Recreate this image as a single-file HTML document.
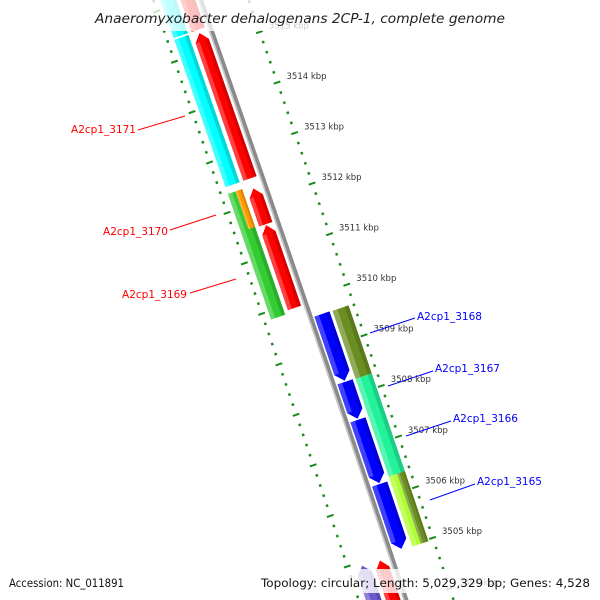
<!DOCTYPE html>
<html><head><meta charset="utf-8"><style>
html,body{margin:0;padding:0;background:#fff;width:600px;height:600px;overflow:hidden;}
svg{display:block;overflow:hidden;}
</style></head><body>
<svg id="map" width="600" height="600" viewBox="0 0 600 600" xmlns="http://www.w3.org/2000/svg">
<g id="backbone-layer"></g>
<g id="feature-layer"></g>
<g id="tick-layer"></g>
<g id="label-layer"></g>
<g id="overlay-layer"></g>
</svg>
<script>
// ---- data ----
const genomeLength = 5029329;
const featureNames = ["R0","A2cp1_3171","R2","A2cp1_3169","C0","C1","A2cp1_3170","O1","B1","B2","B3","B4","A2cp1_3168","A2cp1_3167","Y1","Y1b","Rbot","Lbot"];
const featureStarts = [3515420,3512470,3511563,3509905,3515420,3512467,3509841,3511579,3508311,3507560,3506288,3504989,3508279,3506348,3504966,3504966,3502500,3502500];
const featureEnds   = [3517000,3515353,3512274,3511545,3517000,3515388,3512329,3512329,3509632,3508290,3507540,3506270,3509623,3508279,3506348,3506348,3504912,3504927];
const featureTracks = ["LN","LN","LN","LN","LF","LF","LF","LFi","RN","RN","RN","RN","RF","RF","RF","RFo","LN","LF"];
const featureStrands = [1,1,1,1,0,0,0,0,-1,-1,-1,-1,0,0,0,0,1,1];
const featureColors = ["#ff0000","#ff0000","#ff0000","#ff0000","#00ffff","#00ffff","#33cc33","#ff9900","#0000ff","#0000ff","#0000ff","#0000ff","#6b8e23","#22f29a","#adff2f","#6b8e23","#ff0000","#6a5acd"];
const tickStart = 3503000, tickEnd = 3517000, tickMinorStep = 200, tickMajorStep = 1000;

// ---- geometry ----
const R = 42800;
const bp0 = 3510000;
const P0 = [346.8, 284.7];
const t = [0.3237, 0.946];
const n = [0.946, -0.3237];
const C = [P0[0]-R*n[0], P0[1]-R*n[1]];
function pt(bp, d){
  const phi = (bp0-bp)/genomeLength*2*Math.PI;
  const r = R+d, c=Math.cos(phi), s=Math.sin(phi);
  return [C[0]+r*(n[0]*c+t[0]*s), C[1]+r*(n[1]*c+t[1]*s)];
}
const trackRange = {LN:[-64,-50], LF:[-83,-68], LFi:[-75,-68], RN:[-41,-25], RF:[-22,-5], RFo:[-13,-5]};
const NS="http://www.w3.org/2000/svg";
function el(tag, attrs, parent){
  const e=document.createElementNS(NS,tag);
  for(const k in attrs) e.setAttribute(k, attrs[k]);
  parent.appendChild(e); return e;
}
function arcPoly(b1,b2,d1,d2){
  const pts=[]; const N=12;
  for(let i=0;i<=N;i++) pts.push(pt(b1+(b2-b1)*i/N,d1));
  for(let i=N;i>=0;i--) pts.push(pt(b1+(b2-b1)*i/N,d2));
  return pts;
}
function toStr(p){return p.map(q=>q[0].toFixed(2)+","+q[1].toFixed(2)).join(" ");}

// backbone
const bb = document.getElementById('backbone-layer');
const bbp = el('polygon',{points:toStr(arcPoly(3502800,3517200,-47.5,-42.5)),fill:'#8a8a8a'},bb);


const bbh = el('polygon',{points:toStr(arcPoly(3502800,3517200,-47.5,-46)),fill:'#c8c8c8'},bb);



// features
const fl = document.getElementById('feature-layer');
const headBp = 160;
for(let i=0;i<featureStarts.length;i++){
  const [d1,d2]=trackRange[featureTracks[i]];
  const s=featureStarts[i], e=featureEnds[i], dm=(d1+d2)/2;
  let pts;
  const N=10;
  if(featureStrands[i]===1){
    const hb=e-headBp; pts=[];
    for(let k=0;k<=N;k++) pts.push(pt(s+(hb-s)*k/N,d1));
    pts.push(pt(e,dm));
    for(let k=N;k>=0;k--) pts.push(pt(s+(hb-s)*k/N,d2));
  } else if(featureStrands[i]===-1){
    const hb=s+headBp; pts=[pt(s,dm)];
    for(let k=0;k<=N;k++) pts.push(pt(hb+(e-hb)*k/N,d1));
    for(let k=N;k>=0;k--) pts.push(pt(hb+(e-hb)*k/N,d2));
  } else pts=arcPoly(s,e,d1,d2);
  const g=el('g',{},fl);
  
  
  const p=el('polygon',{points:toStr(pts),fill:featureColors[i]},g);
  
  
  const w=d2-d1;
  const lo = featureStrands[i]===-1 ? s+headBp : s;
  const hi = featureStrands[i]===1 ? e-headBp : e;
  const hl=el('polygon',{points:toStr(arcPoly(lo,hi,d1,d1+w*0.3)),fill:'#ffffff','fill-opacity':0.25},g);
  
  
  const sh=el('polygon',{points:toStr(arcPoly(lo,hi,d2-w*0.25,d2)),fill:'#000000','fill-opacity':0.15},g);
  
  
}

// ticks
const tl=document.getElementById('tick-layer');
const rings=[0,-90];
for(const ring of rings){
  for(let b=tickStart;b<=tickEnd;b+=tickMinorStep){
    const major=(b%tickMajorStep===0);
    const a=pt(b,ring+(major?-3.5:-1)), c=pt(b,ring+(major?3.5:1.5));
    const ln=el('line',{x1:a[0],y1:a[1],x2:c[0],y2:c[1],stroke:'#1a8a1a','stroke-width':major?2:2.5},tl);
    
    
  }
}
for(let b=tickStart;b<=tickEnd;b+=tickMajorStep){
  const p=pt(b,10);
  const tx=el('text',{x:p[0].toFixed(1),y:(p[1]-0.5).toFixed(1),'font-family':'DejaVu Sans, Liberation Sans, sans-serif','font-size':'8.5',fill:'#333'},tl);
  tx.textContent=(b/1000)+' kbp';
  
  
}
</script>
<script>
// overlays & labels (static annotation)
(function(){
  const NS="http://www.w3.org/2000/svg";
  const ll=document.getElementById('label-layer');
  const ov=document.getElementById('overlay-layer');
  function add(tag,attrs,parent){const e=document.createElementNS(NS,tag);for(const k in attrs)e.setAttribute(k,attrs[k]);parent.appendChild(e);return e;}
  const labs=[
    ["A2cp1_3171","#ff0000",136,133,"end",[138,130,185,116]],
    ["A2cp1_3170","#ff0000",168,235,"end",[170,230,216,215]],
    ["A2cp1_3169","#ff0000",187,298,"end",[190,293,236,279]],
    ["A2cp1_3168","#0000ff",417,320,"start",[370,333,415,318]],
    ["A2cp1_3167","#0000ff",435,372,"start",[388,386,433,371]],
    ["A2cp1_3166","#0000ff",453,422,"start",[406,436,451,421]],
    ["A2cp1_3165","#0000ff",477,485,"start",[430,500,475,484]]
  ];
  for(const L of labs){
    const g=add('g',{},ll);
    
    
    const ln=add('line',{x1:L[5][0],y1:L[5][1],x2:L[5][2],y2:L[5][3],stroke:L[1],'stroke-width':1},g);
    
    
    const tx=add('text',{x:L[2],y:L[3],fill:L[1],'font-family':'DejaVu Sans, Liberation Sans, sans-serif','font-size':'10.5','text-anchor':L[4]},g);
    tx.textContent=L[0];
    
    
  }
  const tb=add('rect',{x:88,y:0,width:424,height:31,fill:'#fff','fill-opacity':0.75},ov);
  
  
  const ti=add('text',{x:300,y:23,'text-anchor':'middle','font-family':'DejaVu Sans, Liberation Sans, sans-serif','font-size':'13','font-style':'italic',fill:'#222',textLength:410,lengthAdjust:'spacingAndGlyphs'},ov);
  ti.textContent='Anaeromyxobacter dehalogenans 2CP-1, complete genome';
  
  
  const fb=add('rect',{x:256,y:569,width:340,height:24,fill:'#fff','fill-opacity':0.8},ov);
  
  
  const a=add('text',{x:9,y:587,'font-family':'DejaVu Sans, Liberation Sans, sans-serif','font-size':'11.5',fill:'#111',textLength:115,lengthAdjust:'spacingAndGlyphs'},ov);
  a.textContent='Accession: NC_011891';
  
  
  const b=add('text',{x:261,y:587,'font-family':'DejaVu Sans, Liberation Sans, sans-serif','font-size':'11.5',fill:'#111',textLength:329,lengthAdjust:'spacingAndGlyphs'},ov);
  b.textContent='Topology: circular; Length: 5,029,329 bp; Genes: 4,528';
  
  
})();
</script>
</body></html>
